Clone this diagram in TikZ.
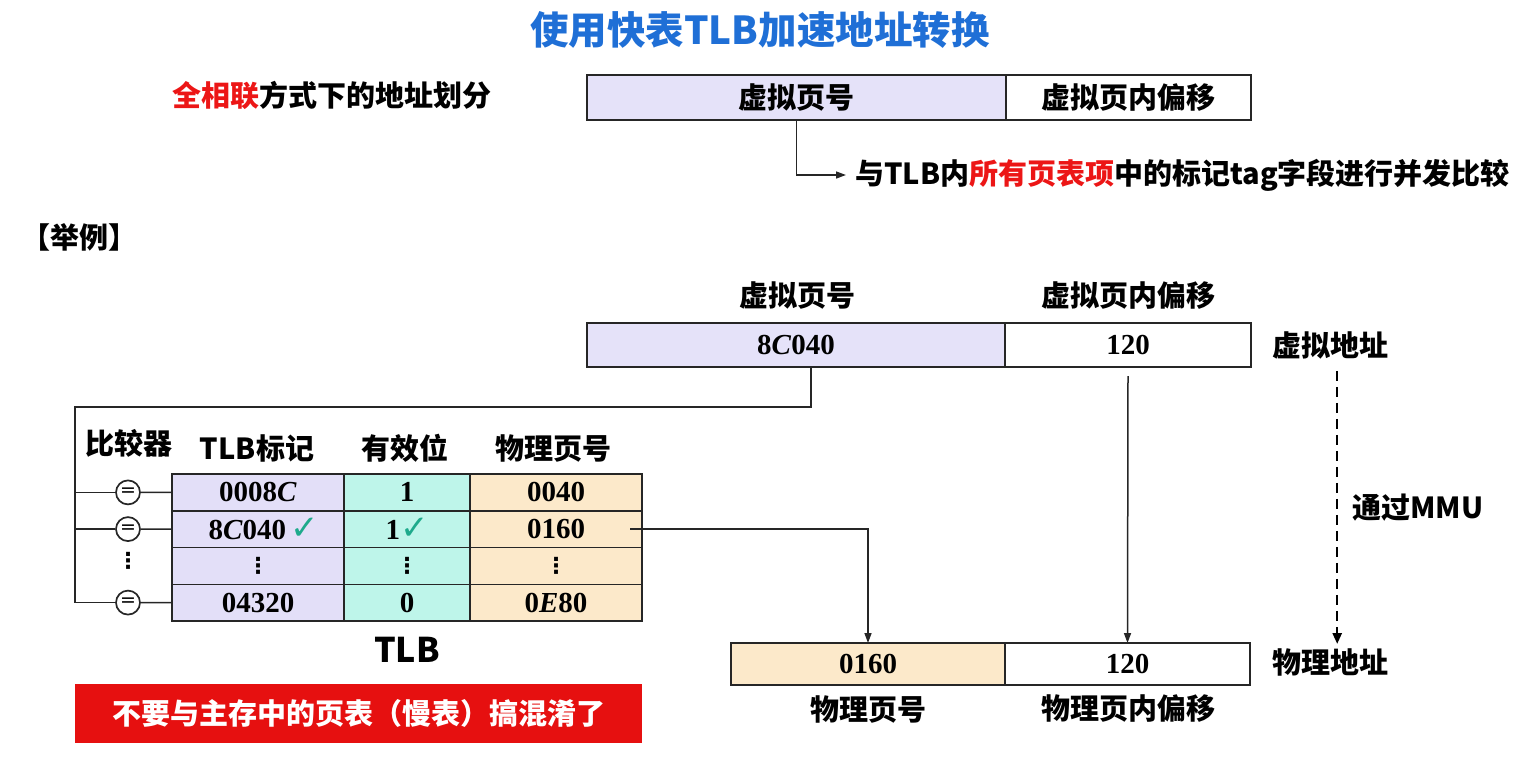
\documentclass[tikz,border=0pt]{standalone}
\usepackage{fontspec}
\newfontfamily\cjk{Noto Sans CJK SC}
\newfontfamily\symf{DejaVu Sans}
\newfontfamily\numf{Liberation Serif}
\usetikzlibrary{arrows.meta,calc}

\definecolor{titleblue}{RGB}{31,111,214}
\definecolor{hired}{RGB}{236,22,22}
\definecolor{warnred}{RGB}{230,16,16}
\definecolor{vpnfill}{RGB}{229,226,249}
\definecolor{tagfill}{RGB}{227,223,248}
\definecolor{validfill}{RGB}{190,245,234}
\definecolor{ppnfill}{RGB}{252,233,202}
\definecolor{chk}{RGB}{30,170,140}

% vertical ellipsis and tick used inside the table
\newcommand{\vd}{{\symf\bfseries\fontsize{22}{22}\selectfont ⋮}}
\newcommand{\tick}{{\color{chk}\symf\bfseries\fontsize{34}{34}\selectfont ✓}}

\begin{document}
\begin{tikzpicture}[x=1pt,y=-1pt,
  lbl/.style={font=\cjk\bfseries\fontsize{29}{32}\selectfont, inner sep=0pt},
  box/.style={draw=black!85, line width=1.8pt, inner sep=0pt, outer sep=0pt, anchor=north west},
  num/.style={font=\numf\bfseries\fontsize{29}{30}\selectfont, inner sep=0pt},
  cell/.style={draw=black!85, line width=1.5pt, inner sep=0pt, outer sep=0pt,
    anchor=north west, minimum height=36.75pt, num},
  link/.style={line width=1.5pt, draw=black!85},
  tip/.style={-{Triangle[length=10pt,width=7pt]}},
  cmpc/.style={circle, draw=black!85, line width=1.7pt, minimum size=24pt, inner sep=0pt,
    font=\symf\fontsize{19}{19}\selectfont},
]
\useasboundingbox (0,0) rectangle (1537,756);

% title
\node[font=\cjk\bfseries\fontsize{38.5}{40}\selectfont, text=titleblue] (title) at (760,30)
  {使用快表TLB加速地址转换};

% address split for the fully associative case
\node[lbl, anchor=west] (scheme) at (172,95) {\textcolor{hired}{全相联}方式下的地址划分};
\node[box, lbl, fill=vpnfill, minimum width=419pt, minimum height=45pt] (hvpn) at (587,75) {虚拟页号};
\node[box, lbl, fill=white, minimum width=245pt, minimum height=45pt] (hoff) at (1006,75) {虚拟页内偏移};
\node[lbl, anchor=west] (cmpnote) at (855,175)
  {与TLB内\textcolor{hired}{所有页表项}中的标记tag字段进行并发比较};
\draw[link, tip] (hvpn.south) |- ([xshift=-9pt]cmpnote.west);

% example
\node[lbl, anchor=west] (eg) at (21,237) {【举例】};

\node[lbl] (vpnhead) at (797,296) {虚拟页号};
\node[lbl] (offhead) at (1128,296) {虚拟页内偏移};
\node[box, num, fill=vpnfill, minimum width=418pt, minimum height=44pt] (vvpn) at (587,323) {8\textit{C}040};
\node[box, num, fill=white, minimum width=246pt, minimum height=44pt] (voff) at (1005,323) {120};
\node[lbl, anchor=west] (vlabel) at (1272,345) {虚拟地址};

% TLB headers
\node[lbl, anchor=west] (cmphead) at (85,443) {比较器};
\node[lbl] (taghead) at (257,448) {TLB标记};
\node[lbl] (validhead) at (405,448) {有效位};
\node[lbl] (ppnhead) at (553,448) {物理页号};

% TLB entries
\node[cell, fill=tagfill, minimum width=172pt] (t1) at (172,474) {0008\textit{C}};
\node[cell, fill=validfill, minimum width=126pt] (v1) at (344,474) {1};
\node[cell, fill=ppnfill, minimum width=172pt] (p1) at (470,474) {0040};

\node[cell, fill=tagfill, minimum width=172pt] (t2) at (172,510.75) {\hspace{12pt}8\textit{C}040\,\tick};
\node[cell, fill=validfill, minimum width=126pt] (v2) at (344,510.75) {1\tick};
\node[cell, fill=ppnfill, minimum width=172pt] (p2) at (470,510.75) {0160};

\node[cell, fill=tagfill, minimum width=172pt] (t3) at (172,547.5) {\vd};
\node[cell, fill=validfill, minimum width=126pt] (v3) at (344,547.5) {\vd};
\node[cell, fill=ppnfill, minimum width=172pt] (p3) at (470,547.5) {\vd};

\node[cell, fill=tagfill, minimum width=172pt] (t4) at (172,584.25) {04320};
\node[cell, fill=validfill, minimum width=126pt] (v4) at (344,584.25) {0};
\node[cell, fill=ppnfill, minimum width=172pt] (p4) at (470,584.25) {0\textit{E}80};

\node[font=\cjk\bfseries\fontsize{34}{36}\selectfont, inner sep=0pt] (tlbname) at (407,650) {TLB};

% comparators fed by the virtual page number
\coordinate (bustop) at (75,407);
\node[cmpc] (q1) at (128,492.4) {=};
\node[cmpc] (q2) at (128,529.1) {=};
\node[inner sep=0pt] (qd) at (128,561) {\vd};
\node[cmpc] (q4) at (128,602.6) {=};
\coordinate (busbot) at (75,602.6);
\draw[link] ([xshift=15pt]vvpn.south) |- (bustop) -- (busbot);
\foreach \q/\t in {q1/t1,q2/t2,q4/t4}{
  \draw[link] (\q -| bustop) -- (\q.west);
  \draw[link] (\q.east) -- (\t.west);
}

% warning
\node[lbl, fill=warnred, text=white, minimum width=567pt, minimum height=59pt, anchor=north west]
  (warn) at (75,684) {不要与主存中的页表（慢表）搞混淆了};

% physical address
\node[box, num, fill=ppnfill, minimum width=274pt, minimum height=42pt] (ppn) at (731,643) {0160};
\node[box, num, fill=white, minimum width=245pt, minimum height=42pt] (poff) at (1005,643) {120};
\node[lbl, anchor=west] (plabel) at (1272,662) {物理地址};
\node[lbl] (ppnfoot) at (868,709) {物理页号};
\node[lbl] (offfoot) at (1128,709) {物理页内偏移};

\draw[link, tip] ([xshift=-12pt]p2.east) -| (ppn.north);
\draw[link, tip] ([yshift=-9pt]voff.south) -- (poff.north);

% MMU path
\draw[line width=2.5pt, dash pattern=on 10pt off 6pt, -{Triangle[length=11pt,width=9pt]}]
  ([xshift=7pt,yshift=-12pt]vlabel.south) -- ([xshift=7pt,yshift=4pt]plabel.north);
\node[lbl, anchor=west] (mmu) at (1352,508) {通过MMU};
\end{tikzpicture}
\end{document}
